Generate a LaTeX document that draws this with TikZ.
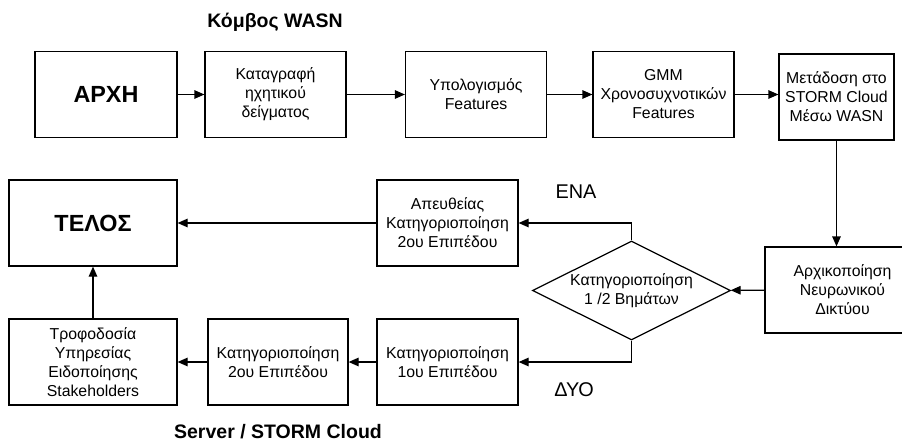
\documentclass[tikz,border=0pt]{standalone}
\usepackage{fontspec}
\setmainfont{Liberation Sans}
\usepackage{tikz}
\usetikzlibrary{arrows.meta, shapes.geometric}
\newlength{\boxheight}
\setlength{\boxheight}{1.72cm}
\tikzset{block/.style = {shape=rectangle,draw,line width=0.7pt,align=center,minimum height=\boxheight,minimum width=2.82cm,inner sep=0pt,font=\fontsize{9}{10.8}\selectfont}}
\tikzset{bigblock/.style = {block,font=\fontsize{13.3}{16}\selectfont\bfseries}}
\tikzset{decision/.style = {diamond,draw,line width=0.7pt,minimum width=3.96cm,minimum height=1.98cm,inner sep=0pt}}
\tikzset{plain/.style = {align=center,font=\fontsize{9}{10.8}\selectfont}}
\tikzset{heading/.style = {font=\fontsize{11.1}{13}\selectfont\bfseries}}
\tikzset{choice/.style = {font=\fontsize{11.3}{13}\selectfont}}
\tikzset{edge/.style = {-{Triangle[length=0.2cm,width=0.17cm]},line width=0.7pt}}

\begin{document}
\begin{tikzpicture}
            \useasboundingbox (0,0) rectangle (18.04,-8.86);
            \clip (0,0) rectangle (18.04,-8.86);
            \node[heading] (wasn) at (5.5,-0.44) {Κόμβος WASN};
            \node[bigblock, minimum width=2.84cm] (arxi) at (2.12,-1.89) {ΑΡΧΗ};
            \node[block] (katagrafi) at (5.51,-1.89) {Καταγραφή\\ηχητικού\\δείγματος};
            \draw[edge] (arxi) -- (katagrafi);
            \node[block] (ypologismos) at (9.52,-1.89) {Υπολογισμός\\Features};
            \draw[edge] (katagrafi) -- (ypologismos);
            \node[block] (gmm) at (13.27,-1.89) {GMM\\Χρονοσυχνοτικών\\Features};
            \draw[edge] (ypologismos) -- (gmm);
            \node[block, minimum width=2.30cm] (metadosi) at (16.73,-1.94) {Μετάδοση στο\\STORM Cloud\\Μέσω WASN};
            \draw[edge] (gmm) -- (gmm -| metadosi.west);
            \node[block, minimum width=3.1cm] (arxikopoiisi) at (16.85,-5.80) {Αρχικοποίηση\\Νευρωνικού\\Δικτύου};
            \draw[edge] (metadosi.south) -- (metadosi.south |- arxikopoiisi.north);
            \node[decision] (vimata) at (12.63,-5.81) {};
            \node[plain] (vimatatext) at (vimata) {Κατηγοριοποίηση\\1 /2 Βημάτων};
            \draw[edge] (arxikopoiisi) -- (vimata);
            \node[block] (apeutheias) at (8.95,-4.46) {Απευθείας\\Κατηγοριοποίηση\\2ου Επιπέδου};
            \draw[edge] (vimata.north) |- (apeutheias.east);
            \node[choice] (ena) at (11.52,-3.84) {ΕΝΑ};
            \node[block] (epipedo1) at (8.95,-7.24) {Κατηγοριοποίηση\\1ου Επιπέδου};
            \draw[edge] (vimata.south) |- (epipedo1.east);
            \node[choice] (dyo) at (11.48,-7.80) {ΔΥΟ};
            \node[block, minimum width=2.80cm] (epipedo2) at (5.56,-7.24) {Κατηγοριοποίηση\\2ου Επιπέδου};
            \draw[edge] (epipedo1) -- (epipedo2);
            \node[block, minimum width=3.36cm] (trofodosia) at (1.86,-7.24) {Τροφοδοσία\\Υπηρεσίας\\Ειδοποίησης\\Stakeholders};
            \draw[edge] (epipedo2) -- (trofodosia);
            \node[bigblock, minimum width=3.36cm] (telos) at (1.86,-4.46) {ΤΕΛΟΣ};
            \draw[edge] (apeutheias) -- (telos);
            \draw[edge] (trofodosia) -- (telos);
            \node[heading] (server) at (5.56,-8.64) {Server / STORM Cloud};
        \end{tikzpicture}
\end{document}
